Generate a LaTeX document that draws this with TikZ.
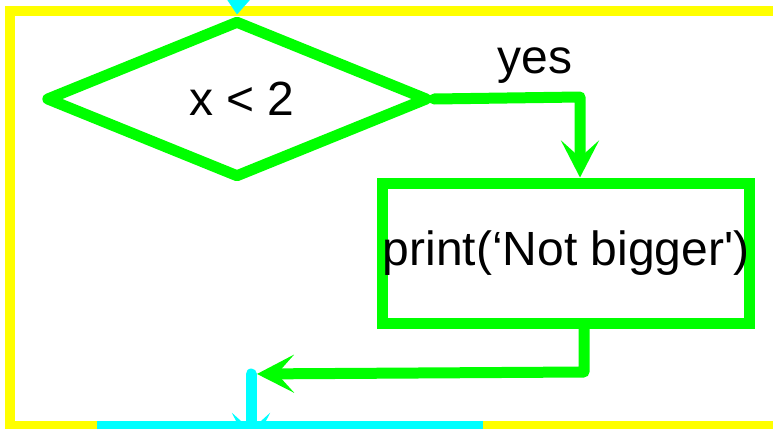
\documentclass[tikz,border=0pt]{standalone}
\usepackage{fontspec}
\setmainfont{Liberation Sans}
\usetikzlibrary{arrows.meta,shapes.geometric}
\definecolor{flowgreen}{RGB}{0,255,0}
\definecolor{flowyellow}{RGB}{255,255,0}
\definecolor{flowcyan}{RGB}{0,255,255}

\begin{document}
\begin{tikzpicture}[x=1pt,y=-1pt,
        every node/.style={font=\fontsize{48}{56}\selectfont},
        greenline/.style={draw=flowgreen, line width=11pt, line cap=round, line join=round},
        cyanline/.style={draw=flowcyan, line width=11pt, line cap=round},
        bigtip/.style={-{Stealth[length=37pt,width=38pt,inset=17pt]}},
        decision/.style={diamond, greenline, minimum width=383pt, minimum height=158pt, inner sep=0pt},
        process/.style={rectangle, greenline, line join=miter, minimum width=366pt, minimum height=140pt, inner sep=0pt}]
    \path[use as bounding box, clip] (0,0) rectangle (773,428);
    % frame of the loop body
    \draw[flowyellow, line width=10pt] (10,11) rectangle (800,426);
    \draw[flowcyan, line width=10pt] (97,426) -- (483,426);

    \node[decision] (cond) at (237,99) {\hspace{10pt}x < 2};
    \node[process] (prt) at (566,253) {print(‘Not bigger\textquotesingle)};
    \node (yeslabel) at (535,66) {yes};

    \coordinate (entry) at (242,-60);
    \coordinate (yesturn) at (580,97);
    \coordinate (retturn) at (584,372);
    \coordinate (merge) at (251,374);
    \coordinate (exit) at (251,450);

    \draw[cyanline, -{Stealth[length=26pt,width=40pt,inset=10pt]}] (entry) -- (cond.north);
    \draw[greenline, bigtip] (cond.east) -- (yesturn) -- (yesturn |- prt.north);
    \draw[cyanline, bigtip] (merge) -- (exit);
    \draw[greenline, bigtip, shorten >=6pt] (retturn |- prt.south) -- (retturn) -- (merge);
\end{tikzpicture}
\end{document}
